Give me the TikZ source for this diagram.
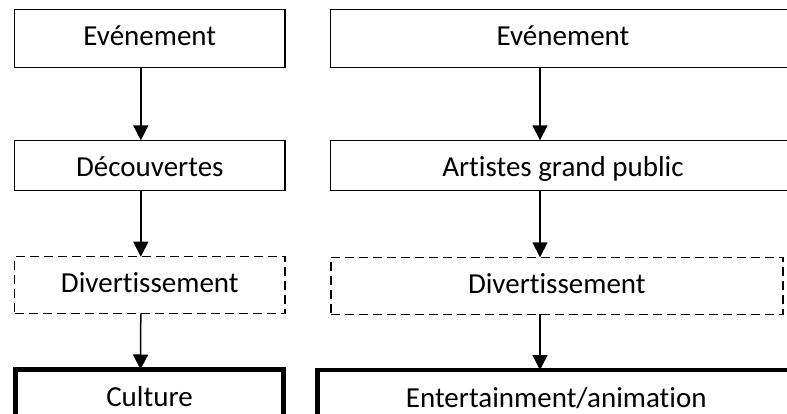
\documentclass[tikz,border=0pt]{standalone}
\usepackage{fontspec}
\setmainfont[Ligatures=NoCommon]{Carlito}
\usetikzlibrary{arrows.meta}

\tikzset{
    box/.style={draw, line width=1.5pt, inner sep=0pt, outer sep=0pt,
        text height=21pt, text depth=6pt,
        font=\fontsize{29}{34}\selectfont},
    lowbox/.style={box, text height=26pt, text depth=3pt},
    dashbox/.style={box, dash pattern=on 9pt off 5pt},
    boldbox/.style={box, line width=4.5pt},
    flow/.style={-{Triangle[width=15pt,length=15pt]}, line width=1.5pt}
}

\begin{document}
\begin{tikzpicture}[x=1pt, y=-1pt]
            \useasboundingbox (0,0) rectangle (787,414);
            \clip (0,0) rectangle (787,414);

            % left chain
            \node[box, minimum width=270.5pt, minimum height=58pt] (L1) at (149.8, 38.5) {Evénement};
            \node[lowbox, minimum width=270.5pt, minimum height=50pt] (L2) at (149.8, 165.3) {Découvertes};
            \node[dashbox, minimum width=270.5pt, minimum height=57pt] (L3) at (149.8, 285.2) {Divertissement};
            \node[boldbox, minimum width=268.4pt, minimum height=59pt] (L4) at (149.5, 399) {Culture};

            \draw[flow] ([xshift=-9pt]L1.south) -- ([xshift=-9pt]L2.north);
            \draw[flow] ([xshift=-9pt]L2.south) -- ([xshift=-9pt]L3.north);
            \draw[flow] ([xshift=-9pt]L3.south) -- ([xshift=-9pt]L4.north);

            % right chain
            \node[box, minimum width=465pt, minimum height=58pt] (R1) at (563, 38.5) {Evénement};
            \node[lowbox, minimum width=465pt, minimum height=50pt] (R2) at (563, 165.3) {Artistes grand public};
            \node[dashbox, minimum width=452pt, minimum height=57pt] (R3) at (556.8, 285.8) {Divertissement};
            \node[boldbox, minimum width=478pt, minimum height=59pt] (R4) at (556.3, 399.5) {Entertainment/animation};

            \draw[flow] ([xshift=-23pt]R1.south) -- ([xshift=-23pt]R2.north);
            \draw[flow] ([xshift=-23pt]R2.south) -- ([xshift=-16.8pt]R3.north);
            \draw[flow] ([xshift=-16.8pt]R3.south) -- ([xshift=-16.3pt]R4.north);
\end{tikzpicture}
\end{document}
